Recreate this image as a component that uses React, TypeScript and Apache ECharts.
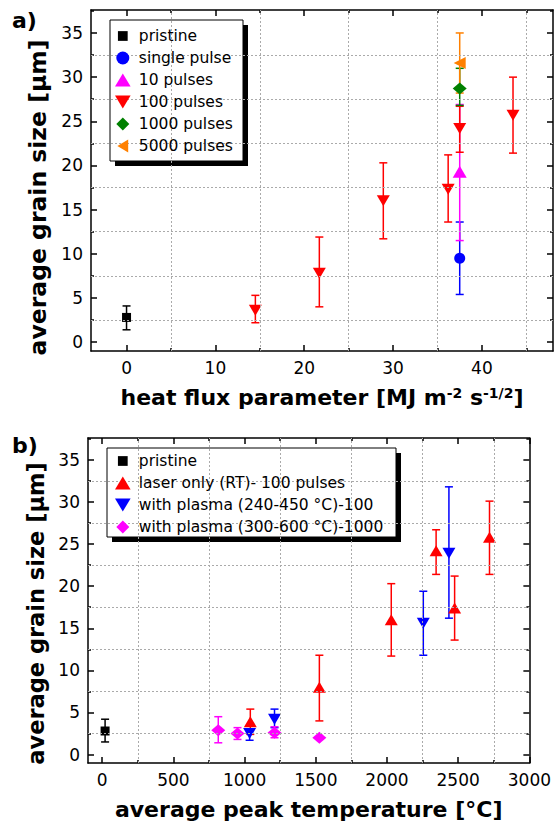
import React, { useEffect, useRef } from "react";
import * as echarts from "echarts";

const FONT = "DejaVu Sans";

// ---------- Panel a: heat flux parameter ----------
const pristineAX = [0];
const pristineAY = [2.8];
const pristineALo = [1.4];
const pristineAHi = [4.1];

const singleAX = [37.5];
const singleAY = [9.5];
const singleALo = [5.4];
const singleAHi = [13.6];

const tenAX = [37.5];
const tenAY = [19.3];
const tenALo = [11.5];
const tenAHi = [26.9];

const hundredAX = [14.5, 21.7, 28.9, 36.2, 37.5, 43.5];
const hundredAY = [3.6, 7.8, 16.0, 17.3, 24.2, 25.7];
const hundredALo = [2.2, 4.0, 11.7, 13.6, 21.5, 21.4];
const hundredAHi = [5.3, 11.9, 20.3, 21.2, 26.7, 30.0];

const thousandAX = [37.5];
const thousandAY = [28.7];
const thousandALo = [26.8];
const thousandAHi = [31.0];

const fiveThousandAX = [37.5];
const fiveThousandAY = [31.6];
const fiveThousandALo = [28.2];
const fiveThousandAHi = [35.0];

// ---------- Panel b: average peak temperature ----------
const pristineBX = [20];
const pristineBY = [2.8];
const pristineBLo = [1.5];
const pristineBHi = [4.2];

const laserBX = [1040, 1525, 2030, 2345, 2475, 2720];
const laserBY = [3.9, 8.0, 16.0, 24.2, 17.4, 25.8];
const laserBLo = [2.4, 4.0, 11.7, 21.4, 13.6, 21.4];
const laserBHi = [5.4, 11.8, 20.3, 26.7, 21.2, 30.1];

const plasma100BX = [1035, 1210, 2255, 2435];
const plasma100BY = [2.5, 4.2, 15.6, 23.9];
const plasma100BLo = [1.7, 3.2, 11.8, 16.2];
const plasma100BHi = [3.0, 5.4, 19.4, 31.8];

const plasma1000BX = [815, 950, 1210, 1525];
const plasma1000BY = [2.9, 2.5, 2.6, 2.0];
const plasma1000BLo = [1.4, 1.8, 2.0, 2.0];
const plasma1000BHi = [4.5, 3.2, 3.3, 2.0];

// ---------- ticks ----------
const aXMajor = [0, 10, 20, 30, 40];
const aXMinor = [5, 15, 25, 35, 45];
const yMajor = [0, 5, 10, 15, 20, 25, 30, 35];
const yMinor = [2.5, 7.5, 12.5, 17.5, 22.5, 27.5, 32.5, 37.5];
const yGrid = [2.5, 7.5, 12.5, 17.5, 22.5, 27.5, 32.5];
const bXMajor = [0, 500, 1000, 1500, 2000, 2500, 3000];
const bXMinor = [250, 750, 1250, 1750, 2250, 2750];

// ---------- names ----------
const legendA = ["pristine", "single pulse", "10 pulses", "100 pulses", "1000 pulses", "5000 pulses"];
const legendB = [
  "pristine",
  "laser only (RT)- 100 pulses",
  "with plasma (240-450 \u00b0C)-100",
  "with plasma (300-600 \u00b0C)-1000",
];

// ---------- symbols ----------
const DOWN = "path://M0,0 L12,0 L6,10 Z";
const LEFT = "path://M10,0 L10,12 L0,6 Z";
const ICON_SQ = "path://M0,0 M12,12 M1.5,1.5 L10.5,1.5 L10.5,10.5 L1.5,10.5 Z";
const ICON_CIRCLE = "path://M6,0 A6,6 0 1 1 6,12 A6,6 0 1 1 6,0 Z";
const ICON_UP = "path://M6,0 L12,10 L0,10 Z";
const ICON_DOWN = "path://M0,0 L12,0 L6,10 Z";
const ICON_DIAMOND = "path://M6,0 L12,6 L6,12 L0,6 Z";
const ICON_LEFT = "path://M10,0 L10,12 L0,6 Z";

function pts(xs: number[], ys: number[], lo: number[], hi: number[]) {
  return xs.map((x, i) => [x, ys[i], lo[i], hi[i]]);
}

function errRender(color: string) {
  return (params: any, api: any) => {
    const x = api.value(0);
    const lo = api.value(2);
    const hi = api.value(3);
    if (hi - lo <= 0) return null;
    const pLo = api.coord([x, lo]);
    const pHi = api.coord([x, hi]);
    const w = 4;
    const style = { stroke: color, lineWidth: 1.5 };
    return {
      type: "group",
      children: [
        { type: "line", shape: { x1: pLo[0], y1: pLo[1], x2: pHi[0], y2: pHi[1] }, style },
        { type: "line", shape: { x1: pLo[0] - w, y1: pLo[1], x2: pLo[0] + w, y2: pLo[1] }, style },
        { type: "line", shape: { x1: pHi[0] - w, y1: pHi[1], x2: pHi[0] + w, y2: pHi[1] }, style },
      ],
    };
  };
}

function group(name: string, color: string, symbol: string, size: any, data: number[][], ax: number) {
  return [
    {
      type: "custom",
      name: name + " error",
      xAxisIndex: ax,
      yAxisIndex: ax,
      data,
      encode: { x: 0, y: 1 },
      renderItem: errRender(color),
      silent: true,
    },
    {
      type: "scatter",
      name,
      xAxisIndex: ax,
      yAxisIndex: ax,
      data: data.map((d) => [d[0], d[1]]),
      symbol,
      symbolSize: size,
      itemStyle: { color, opacity: 1 },
      silent: true,
    },
  ];
}

function axes(dim: "x" | "y", gridIndex: number, min: number, max: number, majors: number[], minors: number[], extra: any) {
  const mainPos = dim === "x" ? "bottom" : "left";
  const mirPos = dim === "x" ? "top" : "right";
  const base = {
    type: "value",
    gridIndex,
    min,
    max,
    splitLine: { show: false },
  };
  const line = { show: true, onZero: false, lineStyle: { color: "#000", width: 1.5 } };
  const noLine = { show: false, onZero: false };
  const tick = (vals: number[], len: number) => ({
    show: true,
    inside: true,
    length: len,
    customValues: vals,
    lineStyle: { color: "#000", width: 1.5 },
  });
  return [
    {
      ...base,
      position: mainPos,
      axisLine: line,
      axisTick: tick(majors, 6),
      axisLabel: {
        show: true,
        customValues: majors,
        formatter: (v: number) => String(v),
        fontSize: 17,
        fontFamily: FONT,
        color: "#000",
        margin: 8,
      },
      ...extra,
    },
    { ...base, position: mainPos, axisLine: noLine, axisTick: tick(minors, 3), axisLabel: { show: false } },
    { ...base, position: mirPos, axisLine: line, axisTick: tick(majors, 6), axisLabel: { show: false } },
    { ...base, position: mirPos, axisLine: noLine, axisTick: tick(minors, 3), axisLabel: { show: false } },
  ];
}

function gridLines(ax: number, xs: number[], ys: number[]) {
  return {
    type: "scatter",
    name: "grid" + ax,
    xAxisIndex: ax,
    yAxisIndex: ax,
    data: [],
    silent: true,
    markLine: {
      silent: true,
      symbol: "none",
      label: { show: false },
      lineStyle: { color: "#aaaaaa", type: [2, 2], width: 1 },
      data: [...xs.map((v) => ({ xAxis: v })), ...ys.map((v) => ({ yAxis: v }))],
    },
  };
}

const titleStyle = { fontFamily: FONT, fontWeight: "bold", fontSize: 22, color: "#000" };
const yTitleStyleA = { ...titleStyle, fontSize: 23.5, padding: [0, 34, 0, 0] };
const yTitleStyleB = { ...titleStyle, fontSize: 22.5, padding: [0, 26, 0, 0] };

export default function App() {
  const ref = useRef<HTMLDivElement>(null);
  useEffect(() => {
    if (!ref.current) return;
    const chart = echarts.init(ref.current, null, { renderer: "svg" });
    const option: any = {
      animation: false,
      backgroundColor: "#fff",
      grid: [
        { left: 91, top: 10, width: 462, height: 341 },
        { left: 88, top: 438, width: 443, height: 325 },
      ],
      xAxis: [
        ...axes("x", 0, -4, 48, aXMajor, aXMinor, {
          name: "{a|heat flux parameter [MJ m}{s|-2}{a| s}{s|-1/2}{a|]}",
          nameLocation: "middle",
          nameGap: 35,
          nameTextStyle: {
            ...titleStyle,
            rich: {
              a: { ...titleStyle },
              s: { fontFamily: FONT, fontWeight: "bold", fontSize: 14, color: "#000", verticalAlign: "top", lineHeight: 14 },
            },
          },
        }),
        ...axes("x", 1, -100, 3000, bXMajor, bXMinor, {
          name: "average peak temperature [\u00b0C]",
          nameLocation: "middle",
          nameGap: 35,
          nameTextStyle: titleStyle,
        }),
      ],
      yAxis: [
        ...axes("y", 0, -1, 37.6, yMajor, yMinor, {
          name: "average grain size [\u00b5m]",
          nameLocation: "middle",
          nameGap: 41,
          nameTextStyle: yTitleStyleA,
        }),
        ...axes("y", 1, -1, 37.6, yMajor, yMinor, {
          name: "average grain size [\u00b5m]",
          nameLocation: "middle",
          nameGap: 40,
          nameTextStyle: yTitleStyleB,
        }),
      ],
      legend: [
        {
          orient: "vertical",
          left: 115,
          top: 28,
          padding: 0,
          itemGap: 6,
          itemWidth: 22,
          itemHeight: 13,
          selectedMode: false,
          z: 10,
          textStyle: { fontFamily: FONT, fontSize: 15.5, color: "#000", lineHeight: 16 },
          data: [
            { name: legendA[0], icon: ICON_SQ },
            { name: legendA[1], icon: ICON_CIRCLE },
            { name: legendA[2], icon: ICON_UP },
            { name: legendA[3], icon: ICON_DOWN },
            { name: legendA[4], icon: ICON_DIAMOND },
            { name: legendA[5], icon: ICON_LEFT },
          ],
        },
        {
          orient: "vertical",
          left: 115,
          top: 453,
          padding: 0,
          itemGap: 6,
          itemWidth: 22,
          itemHeight: 13,
          selectedMode: false,
          z: 10,
          textStyle: { fontFamily: FONT, fontSize: 15.5, color: "#000", lineHeight: 16 },
          data: [
            { name: legendB[0], icon: ICON_SQ },
            { name: legendB[1], icon: ICON_UP },
            { name: legendB[2], icon: ICON_DOWN },
            { name: legendB[3], icon: ICON_DIAMOND },
          ],
        },
      ],
      graphic: [
        { type: "text", left: 12, top: 9, z: 5, style: { text: "a)", font: `bold 22px "${FONT}"`, fill: "#000" } },
        { type: "text", left: 12, top: 434, z: 5, style: { text: "b)", font: `bold 22px "${FONT}"`, fill: "#000" } },
        { type: "rect", z: 5, shape: { x: 115, y: 25, width: 133, height: 141 }, style: { fill: "#000" } },
        { type: "rect", z: 5, shape: { x: 110, y: 20, width: 133, height: 141 }, style: { fill: "#fff", stroke: "#000", lineWidth: 1 } },
        { type: "rect", z: 5, shape: { x: 112, y: 453, width: 289, height: 89 }, style: { fill: "#000" } },
        { type: "rect", z: 5, shape: { x: 107, y: 448, width: 289, height: 89 }, style: { fill: "#fff", stroke: "#000", lineWidth: 1 } },
      ],
      series: [
        gridLines(0, aXMinor, yGrid),
        gridLines(4, bXMinor, yGrid),
        ...group(legendA[0], "#000000", "rect", 9, pts(pristineAX, pristineAY, pristineALo, pristineAHi), 0),
        ...group(legendA[1], "#0000ff", "circle", 11, pts(singleAX, singleAY, singleALo, singleAHi), 0),
        ...group(legendA[2], "#ff00ff", "triangle", [14, 12], pts(tenAX, tenAY, tenALo, tenAHi), 0),
        ...group(legendA[3], "#ff0000", DOWN, [13, 11], pts(hundredAX, hundredAY, hundredALo, hundredAHi), 0),
        ...group(legendA[4], "#008000", "diamond", [14, 12], pts(thousandAX, thousandAY, thousandALo, thousandAHi), 0),
        ...group(legendA[5], "#ff8000", LEFT, [12, 12], pts(fiveThousandAX, fiveThousandAY, fiveThousandALo, fiveThousandAHi), 0),
        ...group(legendB[0] , "#000000", "rect", 9, pts(pristineBX, pristineBY, pristineBLo, pristineBHi), 4),
        ...group(legendB[1], "#ff0000", "triangle", [13, 11], pts(laserBX, laserBY, laserBLo, laserBHi), 4),
        ...group(legendB[2], "#0000ff", DOWN, [13, 11], pts(plasma100BX, plasma100BY, plasma100BLo, plasma100BHi), 4),
        ...group(legendB[3], "#ff00ff", "diamond", [14, 12], pts(plasma1000BX, plasma1000BY, plasma1000BLo, plasma1000BHi), 4),
      ],
    };
    chart.setOption(option);
    return () => chart.dispose();
  }, []);
  return (
    <div
      ref={ref}
      style={{ position: "absolute", left: 0, top: 0, width: 554, height: 827, background: "#fff" }}
    />
  );
}
